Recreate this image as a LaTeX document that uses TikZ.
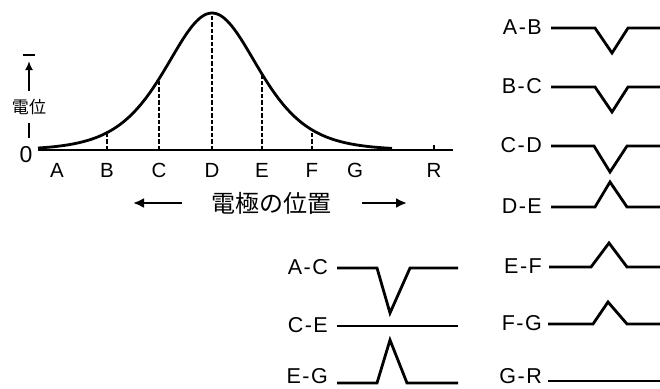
\documentclass[tikz,border=0pt]{standalone}
\usepackage{fontspec}
\setmainfont{Liberation Sans}
\newfontfamily\jpfont{Noto Sans CJK JP}
\usetikzlibrary{arrows.meta}
\newcommand{\pr}[2]{#1\kern1.5pt-\kern1.5pt#2}
\begin{document}
\begin{tikzpicture}[x=1pt,y=-1pt,
  wave/.style={line width=2.8pt, line join=miter},
  curve/.style={line width=2.8pt},
  guide/.style={line width=2.4pt, dash pattern=on 4.5pt off 2pt},
  lbl/.style={font=\fontsize{21.5}{21.5}\selectfont, inner sep=0pt, anchor=east},
  axl/.style={font=\fontsize{20.5}{20.5}\selectfont, inner sep=0pt},
  arr/.style={line width=2.6pt, -{Latex[length=11pt,width=10pt]}}]
\useasboundingbox (0,0) rectangle (660,388);
% axis
\coordinate (ax0) at (38,150);
\coordinate (ax1) at (453,150);
\draw[line width=2.8pt] (ax0) -- (ax1);
\draw[line width=1.8pt] (434,150) -- (434,145);
\draw[curve] plot[domain=-174:180, samples=160] ({212+\x},{150-137/(cosh(\x/62)*cosh(\x/62))});
\foreach \dx in {-105,-53,0,50,100}
  \draw[guide] ({212+\dx},150) -- ({212+\dx},{150-137/(cosh(\dx/62)*cosh(\dx/62))});
% axis letters
\foreach \n/\xx in {A/57,B/107,C/159,D/212,E/262,F/312,G/355,R/434}
  \node[axl] (l\n) at (\xx,170) {\n};
\node[font=\fontsize{23}{23}\selectfont, inner sep=0pt] (zero) at (26,155) {0};
% y axis
\node[font=\jpfont\fontsize{17}{17}\selectfont, inner sep=0pt] (pot) at (29,107) {電位};
\coordinate (ytop) at (29,61);
\draw[line width=2.2pt, -{Latex[length=9pt,width=8pt]}] (29,91) -- (ytop);
\draw[line width=2.2pt] (23,55) -- (35,55);
\draw[line width=2.2pt] (29,123) -- (29,138);
% position label
\node[font=\jpfont\fontsize{24}{24}\selectfont, inner sep=0pt] (pos) at (271,203) {電極の位置};
\coordinate (la0) at (182,203); \coordinate (la1) at (133,203);
\coordinate (ra0) at (362,203); \coordinate (ra1) at (407,203);
\draw[arr] (la0) -- (la1);
\draw[arr] (ra0) -- (ra1);
% middle group
\node[lbl] (ac) at (328,267) {\pr{A}{C}};
\node[lbl] (ce) at (328,325) {\pr{C}{E}};
\node[lbl] (eg) at (328,376) {\pr{E}{G}};
\draw[wave] (337,268) -- (377,268) -- (390,313) -- (410,268) -- (458,268);
\draw[wave] (337,326) -- (458,326);
\draw[wave] (337,383) -- (377,383) -- (390,340) -- (407,383) -- (458,383);
% right column
\node[lbl] (ab) at (542,27) {\pr{A}{B}};
\node[lbl] (bc) at (542,86) {\pr{B}{C}};
\node[lbl] (cd) at (542,145) {\pr{C}{D}};
\node[lbl] (de) at (542,206) {\pr{D}{E}};
\node[lbl] (ef) at (542,266) {\pr{E}{F}};
\node[lbl] (fg) at (542,323) {\pr{F}{G}};
\node[lbl] (gr) at (542,376) {\pr{G}{R}};
\draw[wave] (551,28) -- (595,28) -- (612,53) -- (628,28) -- (660,28);
\draw[wave] (551,87) -- (595,87) -- (612,112) -- (628,87) -- (660,87);
\draw[wave] (551,146) -- (594,146) -- (610,172) -- (627,146) -- (660,146);
\draw[wave] (551,207) -- (595,207) -- (610,182) -- (627,207) -- (660,207);
\draw[wave] (549,267) -- (591,267) -- (609,243) -- (627,267) -- (660,267);
\draw[wave] (548,324) -- (593,324) -- (608,302) -- (627,324) -- (660,324);
\draw[wave] (548,381) -- (660,381);
\end{tikzpicture}
\end{document}
